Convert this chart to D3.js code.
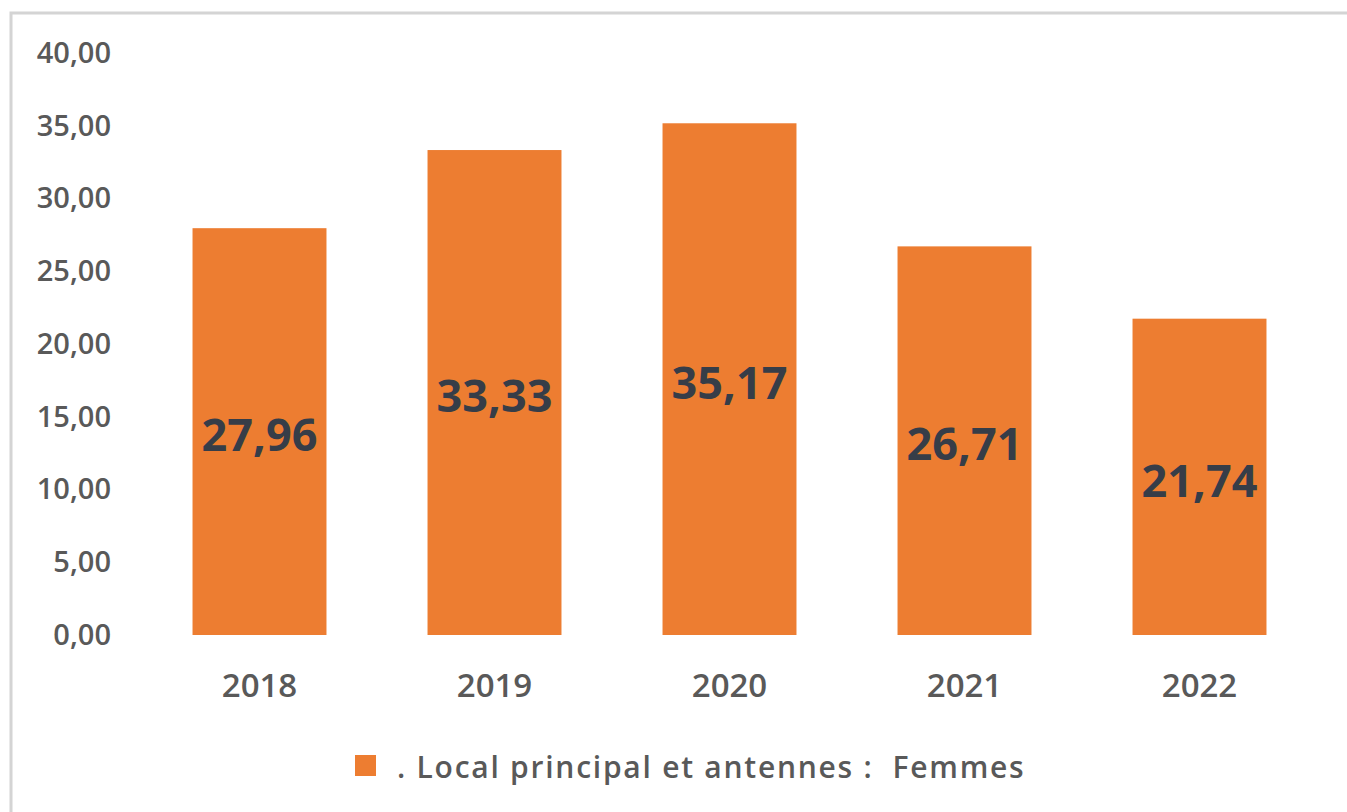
<!DOCTYPE html>
<html>
<head>
<meta charset="utf-8">
<script src="https://cdn.jsdelivr.net/npm/d3@7"></script>
<style>
  html, body { margin: 0; padding: 0; background: #ffffff; }
  svg { display: block; }
</style>
</head>
<body>
<svg id="chart" width="1347" height="812"></svg>
<script>
// Share of women, main office and branches
const years = ["2018", "2019", "2020", "2021", "2022"];
const values = [27.96, 33.33, 35.17, 26.71, 21.74];
const yTicks = [0, 5, 10, 15, 20, 25, 30, 35, 40];
const seriesName = ". Local principal et antennes :  Femmes";

const fmt = v => d3.format(".2f")(v).replace(".", ",");
const font = "'Open Sans', 'Noto Sans', sans-serif";
const barColor = "#ED7D31";

const svg = d3.select("#chart");

// chart frame
svg.append("path")
  .attr("d", "M11,812 V13 H1347")
  .attr("fill", "none")
  .attr("stroke", "#d4d4d4")
  .attr("stroke-width", 3);

const x = d3.scaleBand()
  .domain(years)
  .range([142, 1317])
  .paddingInner(0.43)
  .paddingOuter(0.215);

const y = d3.scaleLinear()
  .domain([0, 40])
  .range([635, 53]);

// value axis
const yAxis = d3.axisLeft(y)
  .tickValues(yTicks)
  .tickFormat(fmt)
  .tickSize(0)
  .tickPadding(0);

const yg = svg.append("g")
  .attr("transform", "translate(111,0)")
  .call(yAxis);
yg.select(".domain").remove();
yg.selectAll("text")
  .attr("font-family", font)
  .attr("font-weight", 600)
  .attr("font-size", 29)
  .attr("fill", "#595959");

// bars
svg.append("g")
  .selectAll("rect")
  .data(values)
  .join("rect")
  .attr("x", (d, i) => x(years[i]))
  .attr("width", x.bandwidth())
  .attr("y", d => y(d))
  .attr("height", d => y(0) - y(d))
  .attr("fill", barColor);

// value labels centred in each bar
svg.append("g")
  .selectAll("text")
  .data(values)
  .join("text")
  .attr("x", (d, i) => x(years[i]) + x.bandwidth() / 2)
  .attr("y", d => (y(d) + y(0)) / 2)
  .attr("dy", "0.44em")
  .attr("text-anchor", "middle")
  .attr("font-family", font)
  .attr("font-weight", "bold")
  .attr("font-size", 45)
  .attr("fill", "#363d48")
  .text(d => fmt(d));

// category axis
const xAxis = d3.axisBottom(x).tickSize(0).tickPadding(0);
const xg = svg.append("g")
  .attr("transform", "translate(0,674)")
  .call(xAxis);
xg.select(".domain").remove();
xg.selectAll("text")
  .attr("dy", "0.71em")
  .attr("font-family", font)
  .attr("font-weight", 600)
  .attr("font-size", 33)
  .attr("fill", "#595959");

// legend
const legend = svg.append("g").attr("transform", "translate(355,755)");
legend.append("rect")
  .attr("width", 21)
  .attr("height", 21)
  .attr("fill", barColor);
legend.append("text")
  .attr("x", 42)
  .attr("y", 23)
  .attr("font-family", font)
  .attr("font-weight", 600)
  .attr("font-size", 30)
  .attr("letter-spacing", 1.75)
  .attr("fill", "#595959")
  .attr("xml:space", "preserve")
  .style("white-space", "pre")
  .text(seriesName);
</script>
</body>
</html>
